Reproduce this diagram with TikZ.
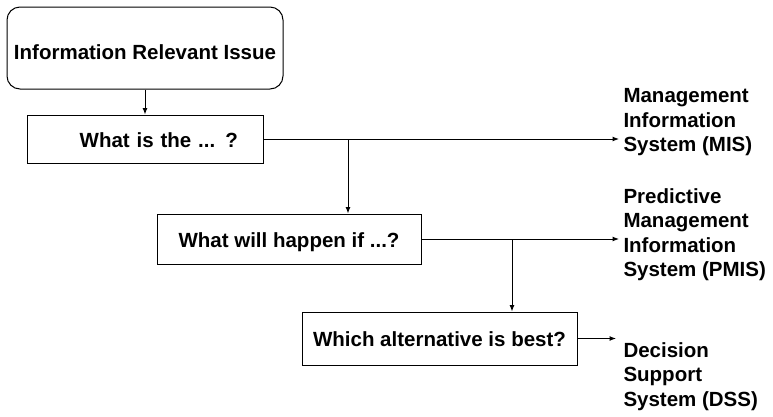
\documentclass[tikz,border=0pt]{standalone}
\usepackage{fontspec}
\setmainfont{Liberation Sans}
\usetikzlibrary{arrows.meta}

\begin{document}
\begin{tikzpicture}[x=1pt,y=-1pt,>={Latex[length=6.5pt,width=5pt]},line width=1pt,
    every node/.style={font=\bfseries\fontsize{20.5}{24.5}\selectfont},
    question/.style={draw,rectangle,inner sep=0pt},
    outcome/.style={align=left,anchor=north west,inner sep=0pt}]
  \useasboundingbox (0,0) rectangle (773,416);

  \node[draw,rounded corners=13pt,minimum width=276pt,minimum height=82pt,
    inner sep=0pt,text height=23.7pt,text depth=0pt] (issue) at (145,48)
    {Information Relevant Issue};

  \node[question,minimum width=236pt,minimum height=48pt,text width=186pt,
    align=right,inner xsep=25pt,text height=17.5pt,text depth=0pt] (whatis) at (145,139)
    {What is the ... ?};
  \node[question,minimum width=264pt,minimum height=50pt,
    text height=17pt,text depth=0pt] (whatif) at (289,239)
    {What will happen if ...?};
  \node[question,minimum width=275pt,minimum height=53pt,
    text height=16pt,text depth=0pt] (best) at (439.5,338.5)
    {Which alternative is best?};

  \node[outcome] (mis) at (623,88)
    {Management \\ Information \\ System (MIS)};
  \node[outcome] (pmis) at (623,188)
    {Predictive \\ Management \\ Information \\ System (PMIS)};
  \node[outcome] (dss) at (623,342)
    {Decision \\ Support \\ System (DSS)};

  \coordinate (split1) at (348,0);
  \coordinate (split2) at (512,0);

  \draw[->] (issue) -- (whatis);

  \draw[->,shorten >=4pt] (whatis.east) -- (whatis.east -| mis.west);
  \draw[->] (whatis.east -| split1) -- (whatif.north -| split1);

  \draw[->,shorten >=4pt] (whatif.east) -- (whatif.east -| pmis.west);
  \draw[->] (whatif.east -| split2) -- (best.north -| split2);

  \draw[->,shorten >=7pt] (best.east) -- (best.east -| dss.west);
\end{tikzpicture}
\end{document}
